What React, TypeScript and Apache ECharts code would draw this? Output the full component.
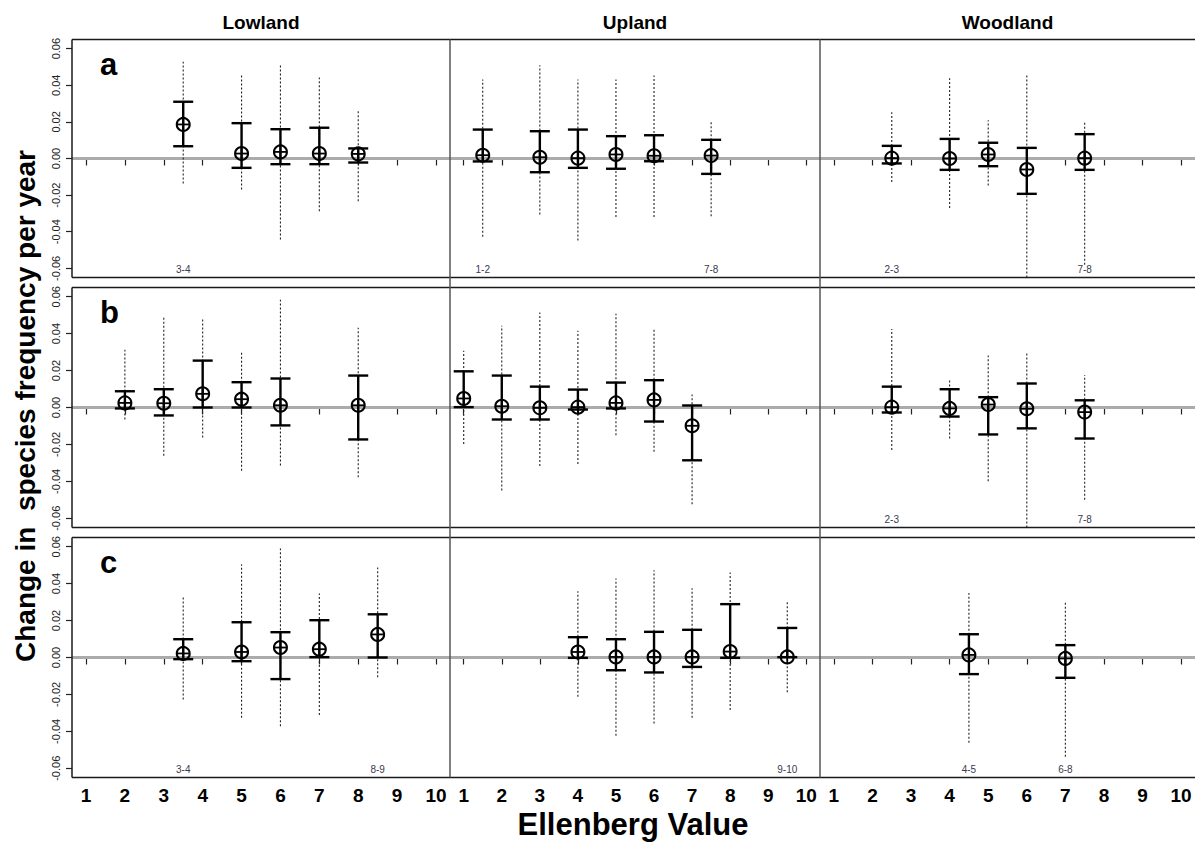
import React, { useEffect, useRef } from "react";
import * as echarts from "echarts";

// Column order in every panel row: [ellenberg x, estimate, ci lower, ci upper, pi lower (dotted), pi upper (dotted)]
const lowlandA = [
  [3.5, 0.0186, 0.0067, 0.031, -0.0137, 0.0528],
  [5, 0.0027, -0.0051, 0.0193, -0.0169, 0.0454],
  [6, 0.0036, -0.0031, 0.016, -0.0443, 0.051],
  [7, 0.0027, -0.0031, 0.0168, -0.0288, 0.0443],
  [8, 0.0025, -0.0022, 0.0055, -0.0233, 0.026],
];
const uplandA = [
  [1.5, 0.0018, -0.0016, 0.0158, -0.0428, 0.0432],
  [3, 0.0007, -0.0075, 0.0149, -0.0306, 0.051],
  [4, 0.0002, -0.0051, 0.0158, -0.0448, 0.0432],
  [5, 0.0022, -0.0056, 0.0122, -0.0319, 0.0432],
  [6, 0.0015, -0.0015, 0.0127, -0.0319, 0.0454],
  [7.5, 0.0016, -0.0084, 0.0102, -0.0315, 0.0198],
];
const woodlandA = [
  [2.5, 0.0002, -0.0027, 0.0069, -0.0129, 0.0253],
  [4, 0.0, -0.0062, 0.0107, -0.027, 0.0439],
  [5, 0.0022, -0.0042, 0.0086, -0.0148, 0.0209],
  [6, -0.006, -0.0193, 0.0058, -0.075, 0.0455],
  [7.5, 0.0002, -0.0062, 0.0133, -0.058, 0.0204],
];
const lowlandB = [
  [2, 0.0025, -0.0005, 0.0088, -0.0065, 0.0313],
  [3, 0.0023, -0.0043, 0.0099, -0.0262, 0.0486],
  [4, 0.0074, 0.0, 0.0254, -0.0162, 0.0476],
  [5, 0.0045, 0.0, 0.0137, -0.0343, 0.03],
  [6, 0.0012, -0.0097, 0.0157, -0.0314, 0.0584],
  [8, 0.0012, -0.0173, 0.0173, -0.0378, 0.0432],
];
const uplandB = [
  [1, 0.0049, 0.0002, 0.0196, -0.0198, 0.0308],
  [2, 0.0007, -0.0065, 0.0173, -0.045, 0.0443],
  [3, -0.0002, -0.0065, 0.0113, -0.0317, 0.0514],
  [4, 0.0002, -0.0011, 0.0097, -0.0306, 0.0416],
  [5, 0.0025, -0.0005, 0.0135, -0.015, 0.0508],
  [6, 0.0041, -0.0076, 0.0148, -0.024, 0.0422],
  [7, -0.0099, -0.0286, 0.0011, -0.0524, 0.007],
];
const woodlandB = [
  [2.5, 0.0002, -0.0027, 0.0113, -0.023, 0.0425],
  [4, -0.0005, -0.0049, 0.0099, -0.0168, 0.0148],
  [5, 0.0016, -0.0146, 0.0056, -0.04, 0.0281],
  [6, -0.0007, -0.0113, 0.013, -0.075, 0.0292],
  [7.5, -0.0025, -0.0168, 0.0039, -0.05, 0.0176],
];
const lowlandC = [
  [3.5, 0.0022, -0.0009, 0.0099, -0.0227, 0.0325],
  [5, 0.003, -0.002, 0.0191, -0.0327, 0.0505],
  [6, 0.0054, -0.0117, 0.0137, -0.0372, 0.059],
  [7, 0.0045, 0.0002, 0.0202, -0.0311, 0.0347],
  [8.5, 0.0125, 0.0, 0.0234, -0.0107, 0.0487],
];
const uplandC = [
  [4, 0.003, -0.0002, 0.011, -0.0213, 0.0359],
  [5, 0.0003, -0.0069, 0.0099, -0.0424, 0.0428],
  [6, 0.0003, -0.0081, 0.0139, -0.0357, 0.0473],
  [7, 0.0003, -0.0051, 0.015, -0.0327, 0.0375],
  [8, 0.0032, -0.0002, 0.0289, -0.0285, 0.046],
  [9.5, 0.0003, 0.0002, 0.016, -0.0188, 0.03],
];
const woodlandC = [
  [4.5, 0.0014, -0.009, 0.0126, -0.0462, 0.035],
  [7, -0.0005, -0.011, 0.0067, -0.0538, 0.0296],
];

// Range labels printed along the bottom of each panel: [x, text]
const labelsLowlandA: [number, string][] = [[3.5, "3-4"]];
const labelsUplandA: [number, string][] = [[1.5, "1-2"], [7.5, "7-8"]];
const labelsWoodlandA: [number, string][] = [[2.5, "2-3"], [7.5, "7-8"]];
const labelsLowlandB: [number, string][] = [];
const labelsUplandB: [number, string][] = [];
const labelsWoodlandB: [number, string][] = [[2.5, "2-3"], [7.5, "7-8"]];
const labelsLowlandC: [number, string][] = [[3.5, "3-4"], [8.5, "8-9"]];
const labelsUplandC: [number, string][] = [[9.5, "9-10"]];
const labelsWoodlandC: [number, string][] = [[4.5, "4-5"], [7, "6-8"]];

const habitats = ["Lowland", "Upland", "Woodland"];
const panelLetters = ["a", "b", "c"];
const xTicks = [1, 2, 3, 4, 5, 6, 7, 8, 9, 10];
const yTicks = [-0.06, -0.04, -0.02, 0, 0.02, 0.04, 0.06];

const X_MIN = 0.64;
const X_MAX = 10.36;
const Y_MIN = -0.065;
const Y_MAX = 0.065;
const LABEL_Y = -0.0605;
const zeroLine = [
  [X_MIN, 0],
  [X_MAX, 0],
];

const panels = [
  [lowlandA, uplandA, woodlandA],
  [lowlandB, uplandB, woodlandB],
  [lowlandC, uplandC, woodlandC],
];
const panelLabels = [
  [labelsLowlandA, labelsUplandA, labelsWoodlandA],
  [labelsLowlandB, labelsUplandB, labelsWoodlandB],
  [labelsLowlandC, labelsUplandC, labelsWoodlandC],
];

const COLS = [
  { left: 72, width: 378 },
  { left: 450, width: 370 },
  { left: 820, width: 375 },
];
const ROWS = [
  { top: 39.5, height: 238 },
  { top: 287.5, height: 240 },
  { top: 537.5, height: 240 },
];
const FONT = "'Liberation Sans', Arial, Helvetica, sans-serif";

function renderErr(params: any, api: any) {
  const x = api.value(0);
  const m = api.value(1);
  const lo = api.value(2);
  const hi = api.value(3);
  const dlo = Math.max(api.value(4), Y_MIN);
  const dhi = Math.min(api.value(5), Y_MAX);
  const c = api.coord([x, m]);
  const pLo = api.coord([x, lo]);
  const pHi = api.coord([x, hi]);
  const pdLo = api.coord([x, dlo]);
  const pdHi = api.coord([x, dhi]);
  const cap = 10;
  const r = 6.5;
  const solid = { stroke: "#000", lineWidth: 2.4 };
  return {
    type: "group",
    children: [
      {
        type: "line",
        shape: { x1: pdLo[0], y1: pdLo[1], x2: pdHi[0], y2: pdHi[1] },
        style: { stroke: "#222", lineWidth: 1.1, lineDash: [2, 2] },
      },
      { type: "line", shape: { x1: pLo[0], y1: pLo[1], x2: pHi[0], y2: pHi[1] }, style: solid },
      { type: "line", shape: { x1: pLo[0] - cap, y1: pLo[1], x2: pLo[0] + cap, y2: pLo[1] }, style: solid },
      { type: "line", shape: { x1: pHi[0] - cap, y1: pHi[1], x2: pHi[0] + cap, y2: pHi[1] }, style: solid },
      { type: "circle", shape: { cx: c[0], cy: c[1], r }, style: { fill: "none", stroke: "#000", lineWidth: 2 } },
      { type: "line", shape: { x1: c[0] - r, y1: c[1], x2: c[0] + r, y2: c[1] }, style: { stroke: "#000", lineWidth: 1.8 } },
      { type: "line", shape: { x1: c[0], y1: c[1] - r, x2: c[0], y2: c[1] + r }, style: { stroke: "#000", lineWidth: 1.8 } },
    ],
  };
}

function buildOption() {
  const grid: any[] = [];
  const xAxis: any[] = [];
  const yAxis: any[] = [];
  const series: any[] = [];
  const graphic: any[] = [];
  let idx = 0;
  for (let r = 0; r < 3; r++) {
    for (let c = 0; c < 3; c++) {
      grid.push({ left: COLS[c].left, top: ROWS[r].top, width: COLS[c].width, height: ROWS[r].height, show: false });
      xAxis.push({
        gridIndex: idx,
        type: "value",
        min: X_MIN,
        max: X_MAX,
        axisLine: { show: false },
        splitLine: { show: false },
        axisTick: { show: true, length: 7, customValues: xTicks, lineStyle: { color: "#222", width: 1.2 } },
        axisLabel: {
          show: r === 2,
          customValues: xTicks,
          fontSize: 19,
          fontWeight: "bold",
          color: "#000",
          margin: 8,
          fontFamily: FONT,
        },
      });
      yAxis.push({
        gridIndex: idx,
        type: "value",
        min: Y_MIN,
        max: Y_MAX,
        axisLine: { show: false },
        splitLine: { show: false },
        axisTick: { show: c === 0, length: 6, customValues: yTicks, lineStyle: { color: "#222", width: 1.2 } },
        axisLabel: {
          show: c === 0,
          customValues: yTicks,
          rotate: 90,
          fontSize: 11,
          color: "#222",
          margin: 11,
          fontFamily: FONT,
          formatter: (v: number) => v.toFixed(2),
        },
      });
      series.push({
        type: "line",
        xAxisIndex: idx,
        yAxisIndex: idx,
        data: zeroLine,
        symbol: "none",
        silent: true,
        z: 1,
        lineStyle: { color: "#ababab", width: 3 },
      });
      series.push({
        type: "custom",
        xAxisIndex: idx,
        yAxisIndex: idx,
        z: 3,
        silent: true,
        data: panels[r][c],
        renderItem: renderErr,
      });
      const labs = panelLabels[r][c];
      if (labs.length) {
        series.push({
          type: "custom",
          xAxisIndex: idx,
          yAxisIndex: idx,
          z: 3,
          silent: true,
          data: labs.map((l) => [l[0], LABEL_Y]),
          renderItem: (params: any, api: any) => {
            const p = api.coord([api.value(0), api.value(1)]);
            return {
              type: "text",
              x: p[0],
              y: p[1],
              style: {
                text: labs[params.dataIndex][1],
                fill: "#3a3a50",
                fontSize: 10,
                fontFamily: FONT,
                align: "center",
                verticalAlign: "middle",
              },
            };
          },
        });
      }
      idx++;
    }
  }

  const leftX = COLS[0].left;
  const rightX = COLS[2].left + COLS[2].width;
  for (let r = 0; r < 3; r++) {
    const t = ROWS[r].top;
    const b = ROWS[r].top + ROWS[r].height;
    graphic.push({ type: "line", z: 10, shape: { x1: leftX, y1: t, x2: rightX + 2, y2: t }, style: { stroke: "#1a1a1a", lineWidth: 1.5 } });
    graphic.push({ type: "line", z: 10, shape: { x1: leftX, y1: b, x2: rightX + 2, y2: b }, style: { stroke: "#1a1a1a", lineWidth: 1.5 } });
    graphic.push({ type: "line", z: 10, shape: { x1: leftX, y1: t, x2: leftX, y2: b }, style: { stroke: "#1a1a1a", lineWidth: 1.5 } });
    graphic.push({
      type: "text",
      z: 10,
      x: 100,
      y: t + 25,
      style: { text: panelLetters[r], fontSize: 31, fontWeight: "bold", fill: "#000", fontFamily: FONT, verticalAlign: "middle" },
    });
  }
  const gTop = ROWS[0].top;
  const gBot = ROWS[2].top + ROWS[2].height;
  for (let c = 1; c < 3; c++) {
    graphic.push({
      type: "line",
      z: 11,
      shape: { x1: COLS[c].left, y1: gTop, x2: COLS[c].left, y2: gBot },
      style: { stroke: "#555", lineWidth: 1.5 },
    });
  }
  for (let c = 0; c < 3; c++) {
    graphic.push({
      type: "text",
      z: 10,
      x: COLS[c].left + COLS[c].width / 2,
      y: 22,
      style: { text: habitats[c], fontSize: 19, fontWeight: "bold", fill: "#000", fontFamily: FONT, align: "center", verticalAlign: "middle" },
    });
  }
  graphic.push({
    type: "text",
    z: 10,
    x: 25,
    y: 406,
    rotation: Math.PI / 2,
    style: {
      text: "Change in  species frequency per year",
      fontSize: 28,
      fontWeight: "bold",
      fill: "#000",
      fontFamily: FONT,
      align: "center",
      verticalAlign: "middle",
    },
  });
  graphic.push({
    type: "text",
    z: 10,
    x: 633,
    y: 824,
    style: { text: "Ellenberg Value", fontSize: 31, fontWeight: "bold", fill: "#000", fontFamily: FONT, align: "center", verticalAlign: "middle" },
  });

  return { animation: false, backgroundColor: "#fff", grid, xAxis, yAxis, series, graphic };
}

export default function App() {
  const ref = useRef<HTMLDivElement>(null);
  useEffect(() => {
    if (!ref.current) return;
    const chart = echarts.init(ref.current, undefined, { renderer: "svg" });
    chart.setOption(buildOption() as any);
    return () => chart.dispose();
  }, []);
  return <div ref={ref} style={{ position: "fixed", left: 0, top: 0, width: 1195, height: 843, background: "#fff" }} />;
}
